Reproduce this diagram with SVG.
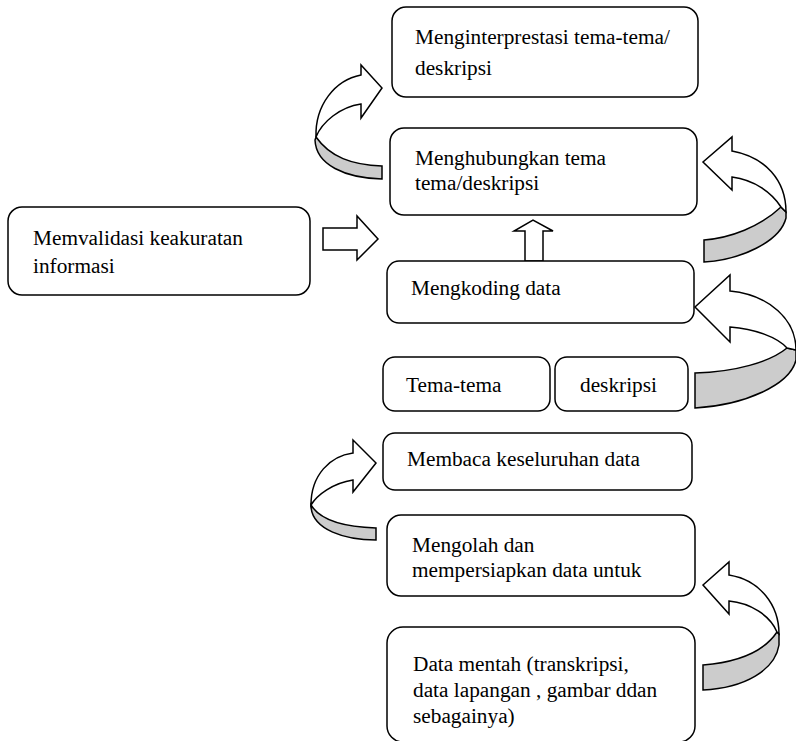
<svg xmlns="http://www.w3.org/2000/svg" width="796" height="741" viewBox="0 0 796 741">
<style>
.box{fill:#fff;stroke:#000;stroke-width:1.5}
.t{font-size:21.3px;fill:#000}
.front{fill:#fff;stroke:#000;stroke-width:1.5;stroke-linejoin:miter}
.band{fill:#cccccc;stroke:#000;stroke-width:1.5}
</style>
<rect width="796" height="741" fill="#fff"/>
<g id="connectors">
  <path class="band" d="M316,137 C330,157 352,165 382,166 L382,179 C345,178 316,165 315,140 Z"/>
  <path class="front" d="M361,75 L361,65 L382,88 L361,118 L361,104 C340,107 322,122 316,137 C315,105 335,80 361,75 Z"/>
  <path class="band" d="M311,505 C320,520 345,527 376,528 L376,540 C345,540 313,530 311,507 Z"/>
  <path class="front" d="M353,453 L353,440 L376,463 L353,492 L353,480 C333,483 317,495 311,505 C311,475 330,456 353,453 Z"/>
  <path class="band" d="M781,207 C760,227 730,238 704,240 L704,262 C740,260 780,242 786,218 L786,212 Z"/>
  <path class="front" d="M732,151 L732,137 L703,162 L732,190 L732,177 C755,180 772,193 781,207 L786,212 C786,180 765,157 732,151 Z"/>
  <path class="band" d="M787,348 C770,362 735,372 695,373 L695,408 C745,405 790,385 796,360 L796,350 Z"/>
  <path class="front" d="M730,291 L730,275 L695,307 L730,342 L730,327 C755,329 777,337 787,348 L796,350 C796,320 770,295 730,291 Z"/>
  <path class="band" d="M777,632 C765,650 740,662 703,665 L703,690 C745,688 775,670 779,645 L779,634 Z"/>
  <path class="front" d="M729,575 L729,562 L703,585 L729,614 L729,601 C750,603 770,615 777,632 L779,634 C779,605 760,580 729,575 Z"/>
  <path class="front" stroke-width="2" d="M323,228 L357,228 L357,216 L378,239 L357,260 L357,250 L323,250 Z"/>
  <path class="front" stroke-width="2" d="M525,261 L525,231 L514,231 L533,220 L553,231 L543,231 L543,261 Z"/>
</g>
<g font-family="'Liberation Serif', 'DejaVu Serif', serif">
<g id="n1">
  <rect class="box" x="392" y="7" width="306" height="90" rx="14"/>
  <text class="t" x="415" y="44">Menginterprestasi tema-tema/</text>
  <text class="t" x="415" y="75">deskripsi</text>
</g>
<g id="n2">
  <rect class="box" x="390" y="128" width="307" height="87" rx="14"/>
  <text class="t" x="415" y="165">Menghubungkan tema</text>
  <text class="t" x="415" y="190">tema/deskripsi</text>
</g>
<g id="n3">
  <rect class="box" x="8" y="207" width="302" height="88" rx="14"/>
  <text class="t" x="33" y="245">Memvalidasi keakuratan</text>
  <text class="t" x="33" y="273">informasi</text>
</g>
<g id="n4">
  <rect class="box" x="387" y="261" width="307" height="62" rx="12"/>
  <text class="t" x="411" y="295">Mengkoding data</text>
</g>
<g id="n5">
  <rect class="box" x="383" y="357" width="167" height="54" rx="12"/>
  <text class="t" x="406" y="392">Tema-tema</text>
</g>
<g id="n6">
  <rect class="box" x="555" y="357" width="133" height="54" rx="12"/>
  <text class="t" x="580" y="392">deskripsi</text>
</g>
<g id="n7">
  <rect class="box" x="383" y="433" width="309" height="57" rx="12"/>
  <text class="t" x="407" y="466">Membaca keseluruhan data</text>
</g>
<g id="n8">
  <rect class="box" x="387" y="515" width="308" height="81" rx="14"/>
  <text class="t" x="412" y="552">Mengolah dan</text>
  <text class="t" x="412" y="577">mempersiapkan data untuk</text>
</g>
<g id="n9">
  <rect class="box" x="387" y="627" width="308" height="115" rx="16"/>
  <text class="t" x="413" y="671">Data mentah (transkripsi,</text>
  <text class="t" x="413" y="697">data lapangan , gambar ddan</text>
  <text class="t" x="413" y="723">sebagainya)</text>
</g>
</g>
</svg>
